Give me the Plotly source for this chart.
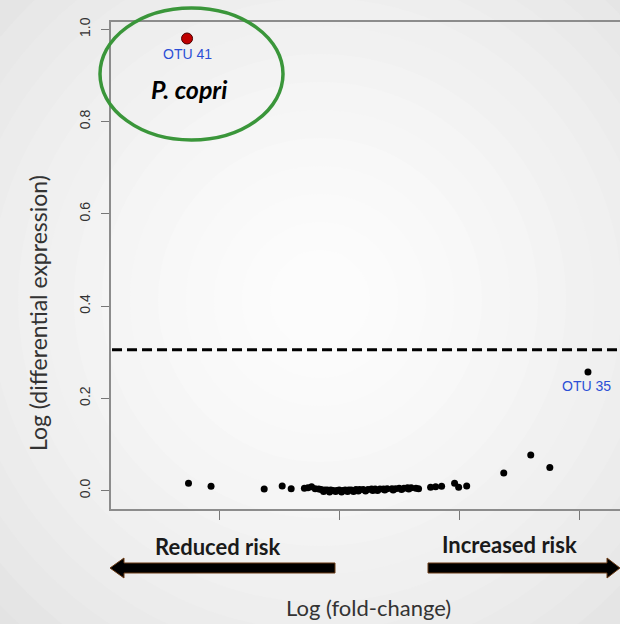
import plotly.graph_objects as go

# ---- data ----
fold_change = [-2.256, -2.068, -1.625, -1.475, -1.40,
               -1.29, -1.26, -1.23, -1.20, -1.17, -1.15, -1.12, -1.10, -1.07, -1.05,
               -1.02, -1.00, -0.97, -0.95, -0.92, -0.90, -0.86, -0.83, -0.80, -0.76,
               -0.73, -0.70, -0.66, -0.63, -0.60, -0.56, -0.53, -0.50, -0.46, -0.43,
               -0.40, -0.36, -0.338, -0.238, -0.196, -0.146, -0.038, -0.004, 0.063,
               0.372, 0.597, 0.756,
               -1.13, -1.08, -1.03, -0.98, -0.93, -0.88, -0.84, -0.78, -0.72, -0.68,
               -0.62, -0.55, -0.48, -0.42]
diff_expr = [0.016, 0.009, 0.003, 0.010, 0.004,
             0.005, 0.006, 0.008, 0.004, 0.003, 0.002, 0.001, 0.001, 0.001, 0.000,
             0.000, 0.001, 0.000, 0.001, 0.001, 0.001, 0.002, 0.002, 0.002, 0.002,
             0.003, 0.003, 0.003, 0.003, 0.004, 0.004, 0.004, 0.005, 0.005, 0.006,
             0.006, 0.005, 0.004, 0.007, 0.008, 0.009, 0.016, 0.007, 0.010,
             0.038, 0.077, 0.050,
             -0.002, -0.003, -0.002, -0.003, -0.002, -0.002, -0.001, -0.001, 0.000,
             0.000, 0.001, 0.001, 0.002, 0.003]
otu41 = {"name": "OTU 41", "x": -2.268, "y": 0.980}
otu35 = {"name": "OTU 35", "x": 1.074, "y": 0.257}
threshold = 0.305
y_ticks = [0.0, 0.2, 0.4, 0.6, 0.8, 1.0]
x_ticks = [-2, -1, 0, 1]

W, H = 620, 624
L, R, T, B = 111, 0, 22, 115
PW, PH = W - L - R, H - T - B


def px(x):
    return (x - L) / PW


def py(y):
    return (H - B - y) / PH


fig = go.Figure()

fig.add_trace(go.Scatter(x=fold_change, y=diff_expr, mode="markers",
                         marker=dict(color="black", size=7), hoverinfo="x+y",
                         showlegend=False))
fig.add_trace(go.Scatter(x=[otu35["x"]], y=[otu35["y"]], mode="markers",
                         marker=dict(color="black", size=7), showlegend=False))
fig.add_trace(go.Scatter(x=[otu41["x"]], y=[otu41["y"]], mode="markers",
                         marker=dict(color="#c00000", size=11,
                                     line=dict(color="#4a0000", width=1)),
                         showlegend=False))

shapes = []
# background radial gradient (slide)
cx, cy = 320, 300
steps = 16
for i in range(steps):
    r = 470 - i * 28
    f = max(r, 0) / 470
    g = int(round(253 - 26 * f ** 1.5))
    col = f"rgb({g},{g},{g})"
    shapes.append(dict(type="circle", xref="paper", yref="paper",
                       x0=px(cx - r), x1=px(cx + r), y0=py(cy + r), y1=py(cy - r),
                       fillcolor=col, line=dict(width=0), layer="below"))

# threshold line
shapes.append(dict(type="line", xref="paper", yref="y", x0=0.002, x1=1,
                   y0=threshold, y1=threshold,
                   line=dict(color="black", width=3, dash="10px,5px")))
# green ellipse
shapes.append(dict(type="circle", xref="paper", yref="paper",
                   x0=px(100), x1=px(283), y0=py(140), y1=py(8),
                   line=dict(color="#3a963a", width=3.5)))


def path(points):
    s = "M " + " L ".join(f"{px(a):.5f},{py(b):.5f}" for a, b in points) + " Z"
    return s


left_arrow = [(110, 568), (124, 558), (124, 563), (335, 563), (335, 573),
              (124, 573), (124, 578)]
right_arrow = [(620, 568), (607, 558), (607, 563), (428, 563), (428, 573),
               (607, 573), (607, 578)]
for pts in (left_arrow, right_arrow):
    shapes.append(dict(type="path", xref="paper", yref="paper", path=path(pts),
                       fillcolor="black", line=dict(color="#6b3a14", width=1)))

C = dict(xanchor="center", yanchor="middle", showarrow=False)
blue = "#2b4fd6"
annotations = [
    dict(x=otu41["x"], y=otu41["y"], xref="x", yref="y", text=otu41["name"],
         yshift=-15, font=dict(family="Liberation Sans, Arial", size=14, color=blue), **C),
    dict(x=otu35["x"], y=otu35["y"], xref="x", yref="y", text=otu35["name"],
         yshift=-14, xshift=-1,
         font=dict(family="Liberation Sans, Arial", size=14, color=blue), **C),
    dict(x=px(189), y=py(89), xref="paper", yref="paper",
         text="<b><i>P. copri</i></b>",
         font=dict(family="Lato", size=25, color="black"), **C),
    dict(x=px(217), y=py(546), xref="paper", yref="paper",
         text="<b>Reduced risk</b>",
         font=dict(family="Lato", size=22, color="#1a1a1a"), **C),
    dict(x=px(509), y=py(544), xref="paper", yref="paper",
         text="<b>Increased risk</b>",
         font=dict(family="Lato", size=22, color="#1a1a1a"), **C),
    dict(x=px(368), y=py(607), xref="paper", yref="paper",
         text="Log (fold-change)",
         font=dict(family="Lato", size=22, color="#333333"), **C),
    dict(x=px(38), y=py(313), xref="paper", yref="paper",
         text="Log (differential expression)", textangle=-90,
         font=dict(family="Lato", size=23, color="#333333"), **C),
]

fig.update_layout(
    width=W, height=H,
    margin=dict(l=L, r=R, t=T, b=B, pad=0),
    paper_bgcolor="#e6e6e6",
    plot_bgcolor="rgba(0,0,0,0)",
    shapes=shapes,
    annotations=annotations,
    showlegend=False,
    xaxis=dict(range=[-2.902, 1.341], tickvals=x_ticks, showticklabels=False,
               ticks="outside", ticklen=9, tickwidth=1.3, tickcolor="#777777",
               showline=True, mirror=True, linecolor="#8c8c8c", linewidth=1.6,
               showgrid=False, zeroline=False),
    yaxis=dict(range=[-0.0401, 1.0158], tickvals=y_ticks,
               ticktext=[f"{v:.1f}" for v in y_ticks], tickangle=-90,
               ticks="outside", ticklen=8, tickwidth=1.3, tickcolor="#777777",
               ticklabelstandoff=6,
               tickfont=dict(family="Liberation Sans, Arial", size=14, color="#333333"),
               showline=True, linecolor="#8c8c8c", linewidth=1.6,
               showgrid=False, zeroline=False),
)

fig.write_html("out.html")
